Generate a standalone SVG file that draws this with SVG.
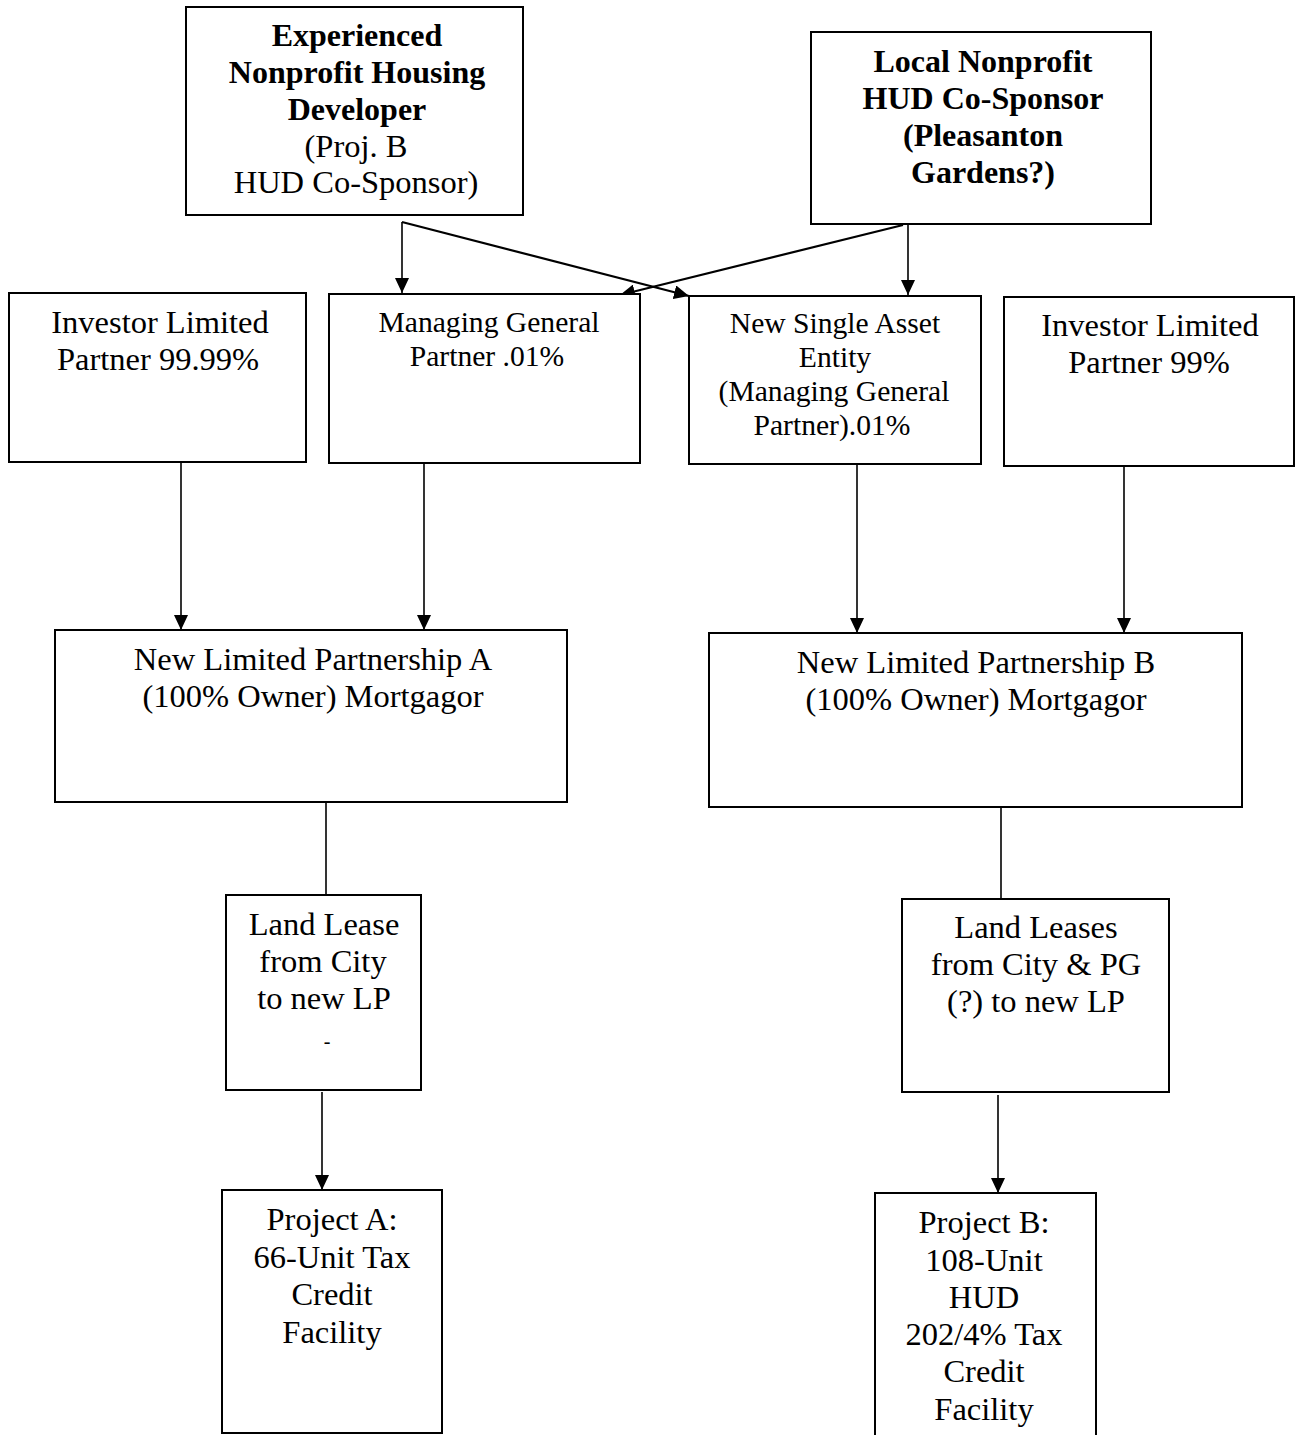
<svg xmlns="http://www.w3.org/2000/svg" width="1300" height="1435" viewBox="0 0 1300 1435">
<defs>
<marker id="ah" viewBox="0 0 15 14" refX="15" refY="7" markerWidth="15" markerHeight="14" markerUnits="userSpaceOnUse" orient="auto">
<path d="M0,0 L15,7 L0,14 Z" fill="#000"/>
</marker>
<style>
rect{fill:#fff;stroke:#000;stroke-width:2}
text{font-family:"Liberation Serif","Times New Roman",serif;font-size:32.5px;fill:#000;text-anchor:middle}
.b{font-weight:bold;font-size:32px}
.s{font-size:29.6px}
.c line{stroke:#000;stroke-width:1.6;fill:none}
.c line.d{stroke-width:2.2}
.a{marker-end:url(#ah)}
</style>
</defs>
<rect x="0" y="0" width="1300" height="1435" style="stroke:none"/>
<g class="c" id="connectors">
<line class="a" x1="402" y1="222" x2="402" y2="293"/>
<line class="a d" x1="402" y1="222" x2="689" y2="296"/>
<line class="a d" x1="903" y1="225" x2="620" y2="295"/>
<line class="a" x1="908" y1="224" x2="908" y2="295"/>
<line class="a" x1="181" y1="463" x2="181" y2="630"/>
<line class="a" x1="424" y1="463" x2="424" y2="630"/>
<line class="a" x1="857" y1="464" x2="857" y2="633"/>
<line class="a" x1="1124" y1="466" x2="1124" y2="633"/>
<line x1="326" y1="800" x2="326" y2="895"/>
<line x1="1001" y1="805" x2="1001" y2="899"/>
<line class="a" x1="322" y1="1092" x2="322" y2="1190"/>
<line class="a" x1="998" y1="1095" x2="998" y2="1193"/>
</g>
<g id="n1">
<rect x="186" y="7" width="337" height="208"/>
<text class="b" x="357" y="46">Experienced</text>
<text class="b" x="357" y="83">Nonprofit Housing</text>
<text class="b" x="357" y="120">Developer</text>
<text x="356" y="157">(Proj. B</text>
<text x="356" y="193">HUD Co-Sponsor)</text>
</g>
<g id="n2">
<rect x="811" y="32" width="340" height="192"/>
<text class="b" x="983" y="72">Local Nonprofit</text>
<text class="b" x="983" y="109">HUD Co-Sponsor</text>
<text class="b" x="983" y="146">(Pleasanton</text>
<text class="b" x="983" y="183">Gardens?)</text>
</g>
<g id="n3">
<rect x="9" y="293" width="297" height="169"/>
<text x="160" y="333">Investor Limited</text>
<text x="158" y="370">Partner 99.99%</text>
</g>
<g id="n4">
<rect x="329" y="294" width="311" height="169"/>
<text class="s" x="489" y="332">Managing General</text>
<text class="s" x="487" y="366">Partner .01%</text>
</g>
<g id="n5">
<rect x="689" y="296" width="292" height="168"/>
<text class="s" x="835" y="333">New Single Asset</text>
<text class="s" x="835" y="367">Entity</text>
<text class="s" x="834" y="401">(Managing General</text>
<text class="s" x="832" y="435">Partner).01%</text>
</g>
<g id="n6">
<rect x="1004" y="297" width="290" height="169"/>
<text x="1150" y="336">Investor Limited</text>
<text x="1149" y="373">Partner 99%</text>
</g>
<g id="n7">
<rect x="55" y="630" width="512" height="172"/>
<text x="313" y="670">New Limited Partnership A</text>
<text x="313" y="707">(100% Owner) Mortgagor</text>
</g>
<g id="n8">
<rect x="709" y="633" width="533" height="174"/>
<text x="976" y="673">New Limited Partnership B</text>
<text x="976" y="710">(100% Owner) Mortgagor</text>
</g>
<g id="n9">
<rect x="226" y="895" width="195" height="195"/>
<text x="324" y="935">Land Lease</text>
<text x="323" y="972">from City</text>
<text x="324" y="1009">to new LP</text>
<text x="327" y="1048" style="font-size:20px">-</text>
</g>
<g id="n10">
<rect x="902" y="899" width="267" height="193"/>
<text x="1036" y="938">Land Leases</text>
<text x="1036" y="975">from City &amp; PG</text>
<text x="1036" y="1012">(?) to new LP</text>
</g>
<g id="n11">
<rect x="222" y="1190" width="220" height="243"/>
<text x="332" y="1230">Project A:</text>
<text x="332" y="1268">66-Unit Tax</text>
<text x="332" y="1305">Credit</text>
<text x="332" y="1343">Facility</text>
</g>
<g id="n12">
<rect x="875" y="1193" width="221" height="250"/>
<text x="984" y="1233">Project B:</text>
<text x="984" y="1271">108-Unit</text>
<text x="984" y="1308">HUD</text>
<text x="984" y="1345">202/4% Tax</text>
<text x="984" y="1382">Credit</text>
<text x="984" y="1420">Facility</text>
</g>
</svg>
